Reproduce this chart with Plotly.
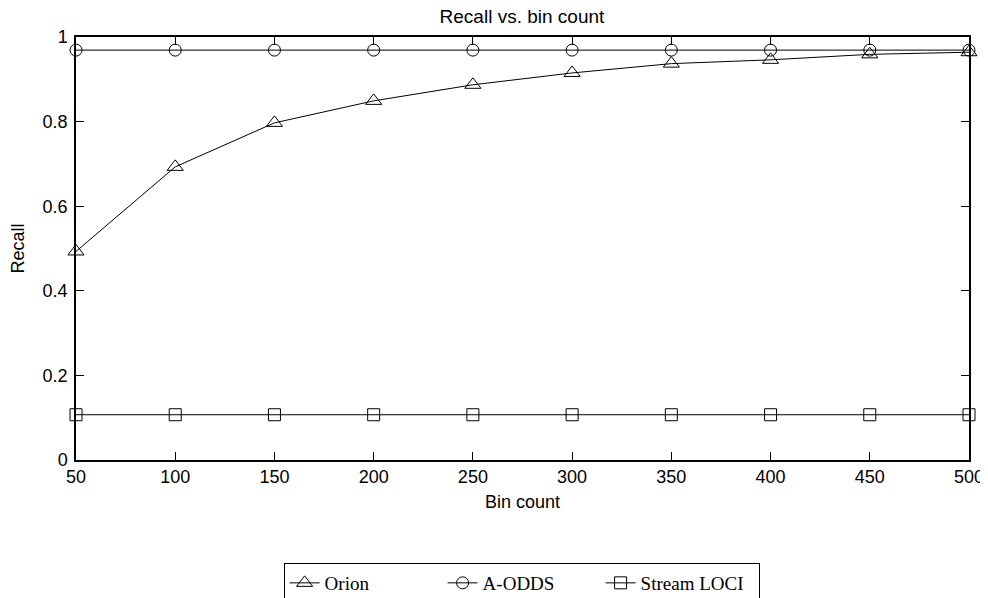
import plotly.graph_objects as go

bin_count = [50, 100, 150, 200, 250, 300, 350, 400, 450, 500]
orion = [0.493, 0.693, 0.797, 0.849, 0.887, 0.915, 0.937, 0.946, 0.959, 0.964]
a_odds = [0.969] * 10
stream_loci = [0.107] * 10

x_ticks = [50, 100, 150, 200, 250, 300, 350, 400, 450, 500]
y_ticks = [0, 0.2, 0.4, 0.6, 0.8, 1]
y_tick_text = ["0", "0.2", "0.4", "0.6", "0.8", "1"]

fig = go.Figure()
series = [
    ("Orion", orion, "triangle-up-open", 14),
    ("A-ODDS", a_odds, "circle-open", 12),
    ("Stream LOCI", stream_loci, "square-open", 12),
]
for name, vals, sym, sz in series:
    fig.add_trace(go.Scatter(
        x=bin_count, y=vals, name=name, mode="lines+markers",
        line=dict(color="black", width=1),
        marker=dict(symbol=sym, size=sz, color="black", line=dict(width=1, color="black")),
        cliponaxis=False,
    ))

axis_font = dict(family="Liberation Sans, Arial, sans-serif", size=18, color="black")

fig.update_layout(
    width=988, height=598,
    margin=dict(l=68, r=27, t=29, b=146, autoexpand=False),
    plot_bgcolor="white", paper_bgcolor="white",
    title=dict(text="Recall vs. bin count", x=0.5202, xanchor="center", y=0.9855, yanchor="middle",
               font=dict(family="Liberation Sans, Arial, sans-serif", size=19, color="black")),
    showlegend=True,
    legend=dict(
        orientation="h", x=0.499, xanchor="center", y=-0.2435, yanchor="top",
        bordercolor="black", borderwidth=1, bgcolor="white",
        font=dict(family="Liberation Serif, Times New Roman, serif", size=19, color="black"),
        entrywidth=113, entrywidthmode="pixels",
    ),
)
fig.update_xaxes(
    range=[50, 500], tickvals=x_ticks, ticktext=[str(v) for v in x_ticks],
    showgrid=False, zeroline=False, showline=True, linecolor="black", linewidth=1.5,
    mirror="allticks", ticks="inside", ticklen=8, tickcolor="black", tickwidth=1,
    tickfont=axis_font, automargin=False,
    title=dict(text="Bin count", font=axis_font, standoff=9),
)
fig.update_yaxes(
    range=[0, 1], tickvals=y_ticks, ticktext=y_tick_text,
    showgrid=False, zeroline=False, showline=True, linecolor="black", linewidth=1.5,
    mirror="allticks", ticks="inside", ticklen=8, tickcolor="black", tickwidth=1,
    tickfont=axis_font, automargin=False, ticklabelstandoff=3,
    title=dict(text="Recall", font=axis_font, standoff=22),
)

fig.write_html("out.html")
